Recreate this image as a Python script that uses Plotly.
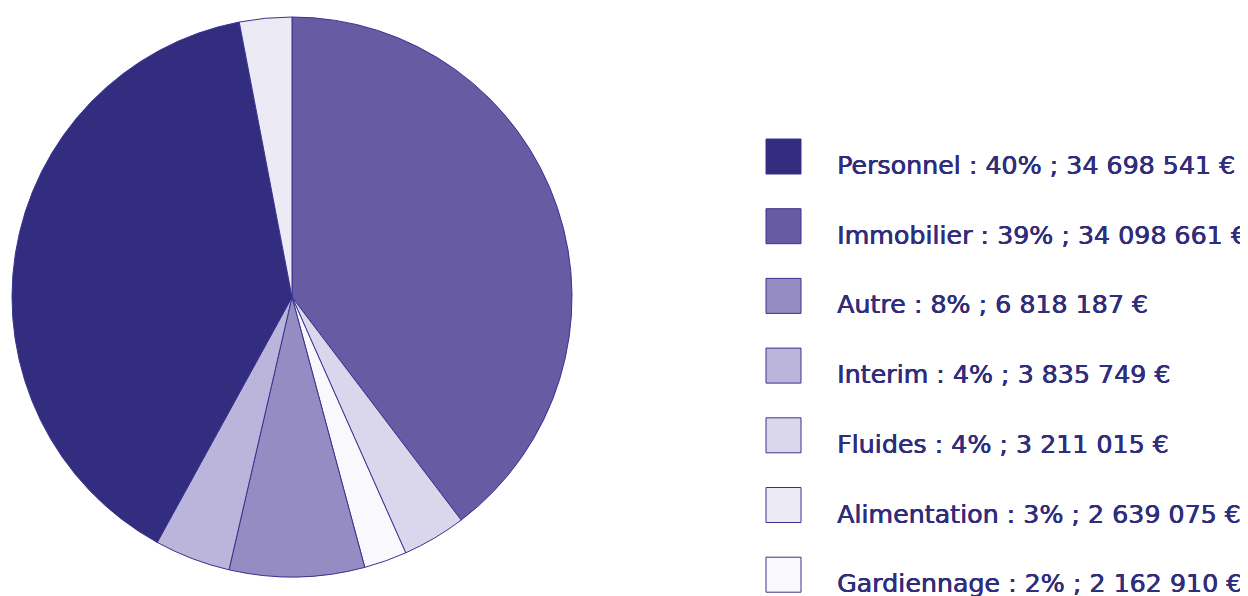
import plotly.graph_objects as go

# Data (legend order)
categories = ["Personnel", "Immobilier", "Autre", "Interim", "Fluides", "Alimentation", "Gardiennage"]
values = [34698541, 34098661, 6818187, 3835749, 3211015, 2639075, 2162910]
colors = ["#332D80", "#675BA3", "#948CC2", "#BBB5DB", "#DAD6EC", "#ECEAF5", "#F9F8FC"]

# Slices as drawn (clockwise from 12 o'clock): colour category and slice size
pie_labels = ["Immobilier", "Fluides", "Gardiennage", "Autre", "Interim", "Personnel", "Alimentation"]
pie_values = [34698541, 3211015, 2162910, 6818187, 3835749, 34098661, 2639075]

W, H = 1248, 596
OFF = 8  # page body margin compensation
total = sum(values)
idx = {c: i for i, c in enumerate(categories)}


def px(x):
    return (x - OFF) / W


def py(y):
    return 1 - (y - OFF) / H


fig = go.Figure()
fig.add_trace(go.Pie(
    labels=pie_labels,
    values=pie_values,
    marker=dict(colors=[colors[idx[c]] for c in pie_labels],
                line=dict(color="#3A3290", width=1)),
    sort=False,
    direction="clockwise",
    rotation=0,
    textinfo="none",
    hoverinfo="label+value+percent",
    showlegend=False,
    domain=dict(x=[px(12), px(572)], y=[py(577), py(17)]),
))


def fmt(v):
    return f"{v:,}".replace(",", " ")


shapes = []
annotations = []
sq_x0, sq_size = 766, 35
first_top, step = 139, 69.7
text_x = 835
txt_color = "#2F2D7C"
for i, c in enumerate(categories):
    top = first_top + i * step
    shapes.append(dict(
        type="rect", xref="paper", yref="paper",
        x0=px(sq_x0), x1=px(sq_x0 + sq_size),
        y0=py(top + sq_size), y1=py(top),
        fillcolor=colors[i], line=dict(color="#3A3290", width=1),
    ))
    pct = round(values[i] / total * 100)
    annotations.append(dict(
        xref="paper", yref="paper",
        x=px(text_x), y=py(top + sq_size / 2 + 9),
        xanchor="left", yanchor="middle",
        text=f"{c} : {pct}% ; {fmt(values[i])} €",
        showarrow=False,
        font=dict(family="DejaVu Sans", size=25.3, color=txt_color,
                  shadow=f"0.5px 0 0 {txt_color}, 0 0.3px 0 {txt_color}"),
    ))

fig.update_layout(
    width=W, height=H,
    margin=dict(l=0, r=0, t=0, b=0),
    paper_bgcolor="white",
    plot_bgcolor="white",
    shapes=shapes,
    annotations=annotations,
)

fig.write_html("out.html")
